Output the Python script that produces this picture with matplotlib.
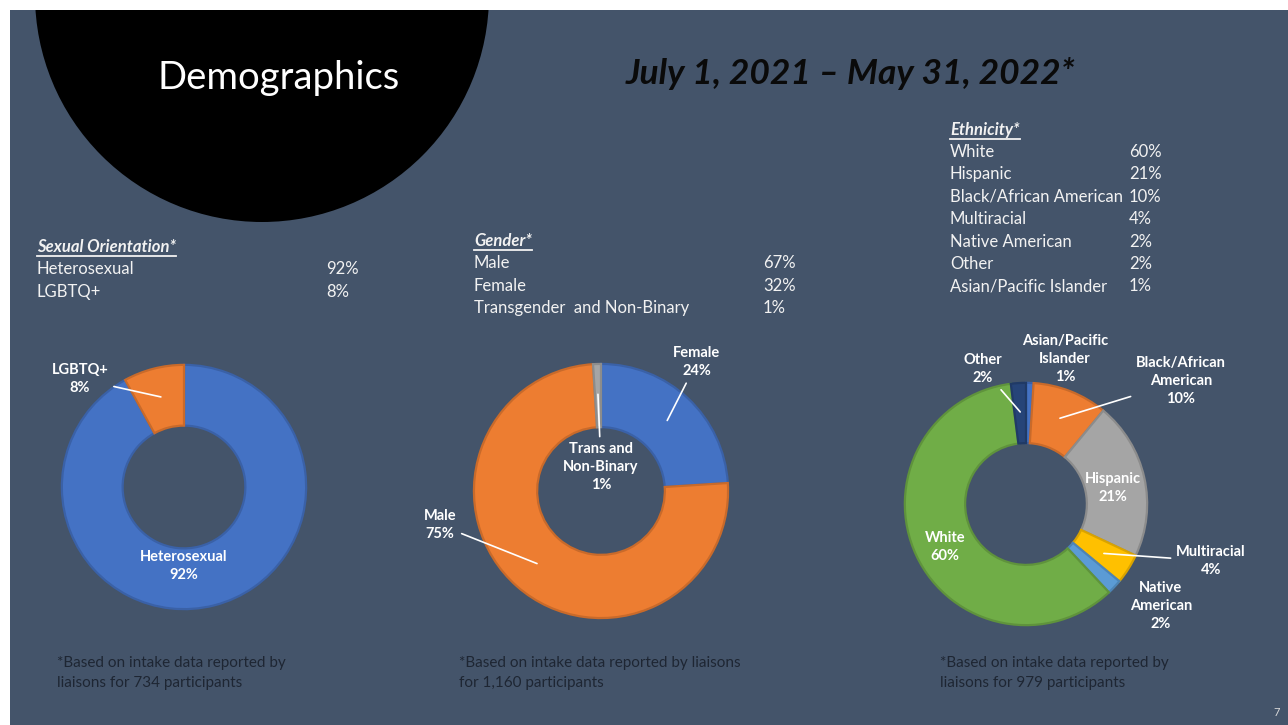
import matplotlib
matplotlib.use("Agg")
from matplotlib import pyplot as plt
from matplotlib.patches import Rectangle, Circle
import numpy as np

W, H = 1288, 725
BG = "#44546A"
TXT = "#F2F2F2"
FONT = ["Lato", "DejaVu Sans"]

# table values (left lists)
so_names = ["Heterosexual", "LGBTQ+"]
so_table = [92, 8]
gender_names = ["Male", "Female", "Transgender  and Non-Binary"]
gender_table = [67, 32, 1]
eth_names = ["White", "Hispanic", "Black/African American", "Multiracial",
             "Native American", "Other", "Asian/Pacific Islander"]
eth_table = [60, 21, 10, 4, 2, 2, 1]

# donut values (clockwise from 12 o'clock)
so_pie_names = ["Heterosexual", "LGBTQ+"]
so_pie = [92, 8]
gender_pie_names = ["Female", "Male", "Trans and\nNon-Binary"]
gender_pie = [24, 75, 1]
eth_pie_names = ["Asian/Pacific\nIslander", "Black/African\nAmerican", "Hispanic",
                 "Multiracial", "Native\nAmerican", "White", "Other"]
eth_pie = [1, 10, 21, 4, 2, 60, 2]

participants = ["734", "1,160", "979"]

plt.rcParams["font.family"] = FONT

fig = plt.figure(figsize=(W / 100, H / 100), dpi=100)
fig.patch.set_facecolor("white")
base = fig.add_axes([0, 0, 1, 1])
base.set_xlim(0, W)
base.set_ylim(H, 0)
base.axis("off")

rect = Rectangle((10, 10), W - 10, H - 10, facecolor=BG, edgecolor="none", zorder=0)
base.add_patch(rect)
blob = Circle((262, -5), 227, facecolor="black", edgecolor="none", zorder=1)
base.add_patch(blob)
blob.set_clip_path(rect)

base.text(158, 78, "Demographics", color="white", fontsize=27.5, va="center", ha="left", zorder=3)
base.text(626, 73, "July 1, 2021 \u2013 May 31, 2022*", color="#0A0A0A", fontsize=25.5,
          fontweight="bold", fontstyle="italic", va="center", ha="left", zorder=3)

fig.canvas.draw()
renderer = fig.canvas.get_renderer()


def header(x, y, s):
    t = base.text(x, y, s, color=TXT, fontsize=12, fontweight="bold", fontstyle="italic",
                  va="baseline", ha="left", zorder=3)
    bb = t.get_window_extent(renderer)
    base.plot([x, x + bb.width], [y + 4, y + 4], color=TXT, lw=1.3, zorder=3)


def table(x, y0, step, xv, names, vals, title):
    header(x, y0 - step + 5, title)
    for i, (n, v) in enumerate(zip(names, vals)):
        base.text(x, y0 + i * step, n, color=TXT, fontsize=12, va="center", ha="left", zorder=3)
        base.text(xv, y0 + i * step, f"{v}%", color=TXT, fontsize=12, va="center", ha="left", zorder=3)


table(37, 269, 22.5, 326, so_names, so_table, "Sexual Orientation*")
table(474, 263, 22.5, 763, gender_names, gender_table, "Gender*")
table(950, 152, 22.4, 1129, eth_names, eth_table, "Ethnicity*")


def darker(c, f=0.85):
    r, g, b, _ = matplotlib.colors.to_rgba(c)
    return (r * f, g * f, b * f)


def donut(cx, cy, R, values, colors, names, label_pos, leaders):
    ax = fig.add_axes([(cx - R) / W, 1 - (cy + R) / H, 2 * R / W, 2 * R / H])
    wedges, _ = ax.pie(values, colors=colors, startangle=90, counterclock=False,
                       radius=0.985, wedgeprops=dict(width=0.49, linewidth=1.6))
    for w, c in zip(wedges, colors):
        w.set_edgecolor(darker(c))
    ax.set_xlim(-1, 1)
    ax.set_ylim(-1, 1)
    ax.axis("off")
    for w, v, n, pos, lead in zip(wedges, values, names, label_pos, leaders):
        s = f"{n}\n{v}%"
        kw = dict(color="white", fontsize=10.5, fontweight="bold", ha="center", va="center",
                  linespacing=1.35, zorder=5)
        if lead:
            mid = np.deg2rad((w.theta1 + w.theta2) / 2)
            xy = (0.75 * np.cos(mid), 0.75 * np.sin(mid))
            ax.annotate(s, xy=xy, xytext=pos, textcoords=base.transData,
                        arrowprops=dict(arrowstyle="-", color="white", lw=1.2,
                                        shrinkA=2, shrinkB=0), **kw)
        else:
            ax.annotate(s, xy=pos, xycoords=base.transData, **kw)


donut(184, 487, 124, so_pie, ["#4472C4", "#ED7D31"], so_pie_names,
      [(184, 566), (80, 379)], [False, True])
donut(601, 491, 129, gender_pie, ["#4472C4", "#ED7D31", "#A5A5A5"], gender_pie_names,
      [(697, 362), (440, 525), (601, 467)], [True, True, True])
donut(1026, 504, 123, eth_pie,
      ["#4472C4", "#ED7D31", "#A5A5A5", "#FFC000", "#5B9BD5", "#70AD47", "#264478"],
      eth_pie_names,
      [(1065, 359), (1181, 381), (1113, 488), (1211, 561), (1161, 606), (945, 547), (983, 369)],
      [False, True, False, True, False, False, True])

notes = ["*Based on intake data reported by\nliaisons for {} participants",
         "*Based on intake data reported by liaisons\nfor {} participants",
         "*Based on intake data reported by\nliaisons for {} participants"]
for x, s, n in zip([57, 459, 940], notes, participants):
    base.text(x, 673, s.format(n), color="#1E2633", fontsize=11,
              va="center", ha="left", linespacing=1.6, zorder=3)

base.text(1277, 712, "7", color="#D9D9D9", fontsize=8, ha="center", va="center", zorder=3)

fig.savefig("out.png", dpi=100, facecolor=fig.get_facecolor())
